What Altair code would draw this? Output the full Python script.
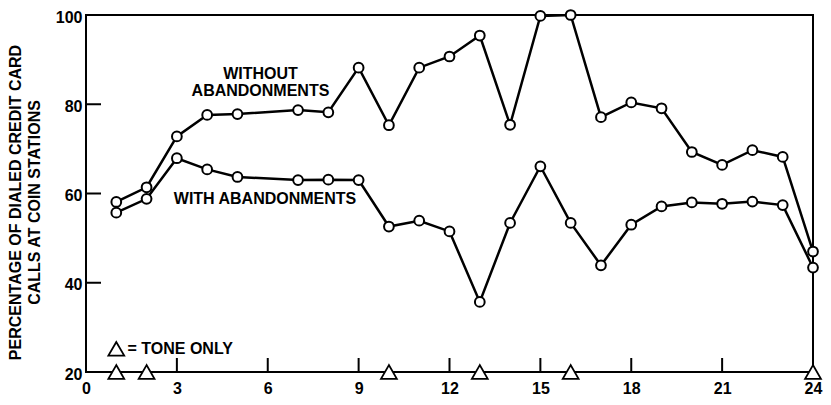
import altair as alt
import pandas as pd

# ---- data ----
hours = [1, 2, 3, 4, 5, 7, 8, 9, 10, 11, 12, 13, 14, 15, 16, 17, 18, 19, 20, 21, 22, 23, 24]
without_abandonments = [58.1, 61.4, 72.8, 77.6, 77.8, 78.7, 78.2, 88.2, 75.3, 88.2, 90.7, 95.4,
                        75.4, 99.8, 100.0, 77.1, 80.4, 79.1, 69.3, 66.4, 69.7, 68.2, 47.0]
with_abandonments = [55.7, 58.8, 67.9, 65.4, 63.7, 63.0, 63.1, 63.0, 52.6, 53.9, 51.5, 35.7,
                     53.4, 66.1, 53.4, 43.9, 53.0, 57.1, 58.0, 57.7, 58.2, 57.4, 43.4]
tone_only_hours = [1, 2, 10, 13, 16, 24]
x_tick_values = [3, 6, 9, 12, 15, 18, 21]
y_tick_values = [40, 60, 80]
x_label_values = [0, 3, 6, 9, 12, 15, 18, 21, 24]
y_label_values = [20, 40, 60, 80, 100]

label_texts = ["WITHOUT", "ABANDONMENTS", "WITH ABANDONMENTS"]
label_x = [5.76, 5.76, 5.91]
label_y = [86.7, 83.0, 58.8]

key_text = "= TONE ONLY"
key_x = 1.0
key_text_x = 1.37
key_y = 25.2

FONT = "Liberation Sans"
WEIGHT = "bold"
W, H = 727, 357

df = pd.DataFrame({
    "hour": hours * 2,
    "pct": without_abandonments + with_abandonments,
    "series": ["without"] * len(hours) + ["with"] * len(hours),
})
df_tone = pd.DataFrame({"hour": tone_only_hours, "pct": [20] * len(tone_only_hours)})
df_xt = pd.DataFrame({"hour": x_tick_values})
df_yt = pd.DataFrame({"pct": y_tick_values})
df_lab = pd.DataFrame({"hour": label_x, "pct": label_y, "txt": label_texts})
df_key = pd.DataFrame({"hour": [key_x], "pct": [key_y]})
df_keytxt = pd.DataFrame({"hour": [key_text_x], "pct": [key_y], "txt": [key_text]})

xs = alt.Scale(domain=[0, 24], nice=False, zero=False)
ys = alt.Scale(domain=[20, 100], nice=False, zero=False)

x_enc = alt.X("hour:Q", scale=xs, axis=alt.Axis(
    values=x_label_values, title=None, ticks=False, tickSize=0, domain=False, grid=False,
    labelPadding=8, labelFontSize=16, labelFont=FONT, labelFontWeight=WEIGHT,
    labelColor="black", labelFlush=False, format="d"))
y_enc = alt.Y("pct:Q", scale=ys, axis=alt.Axis(
    values=y_label_values, ticks=False, tickSize=0, domain=False, grid=False,
    labelPadding=4, labelFontSize=16, labelFont=FONT, labelFontWeight=WEIGHT,
    labelColor="black", labelFlush=False, labelOffset=2, format="d",
    title=["PERCENTAGE OF DIALED CREDIT CARD", "CALLS AT COIN STATIONS"],
    titleFont=FONT, titleFontSize=16, titleFontWeight=WEIGHT, titleColor="black",
    titleAngle=270, titleAlign="center", titleBaseline="middle", titleLineHeight=19,
    titleX=-71, titleY=187))

base = alt.Chart(df)

lines = base.mark_line(color="black", strokeWidth=2.5).encode(
    x=x_enc, y=y_enc, detail="series:N")
points = base.mark_point(shape="circle", filled=True, fill="white", stroke="black",
                         strokeWidth=2, size=95, opacity=1).encode(
    x="hour:Q", y="pct:Q", detail="series:N")

x_ticks = alt.Chart(df_xt).mark_rule(color="black", strokeWidth=2).encode(
    x="hour:Q", y=alt.value(H), y2=alt.value(H - 14))
y_ticks = alt.Chart(df_yt).mark_rule(color="black", strokeWidth=2).encode(
    y="pct:Q", x=alt.value(0), x2=alt.value(15))

tone = alt.Chart(df_tone).mark_point(shape="triangle-up", filled=True, fill="white",
                                     stroke="black", strokeWidth=1.8, size=250, opacity=1).encode(
    x="hour:Q", y="pct:Q")
key_tri = alt.Chart(df_key).mark_point(shape="triangle-up", filled=True, fill="white",
                                       stroke="black", strokeWidth=1.8, size=250, opacity=1).encode(
    x="hour:Q", y="pct:Q")
key_txt = alt.Chart(df_keytxt).mark_text(align="left", baseline="middle", font=FONT,
                                         fontWeight=WEIGHT, fontSize=16, color="black").encode(
    x="hour:Q", y="pct:Q", text="txt:N")
labels = alt.Chart(df_lab).mark_text(align="center", baseline="middle", font=FONT,
                                     fontWeight=WEIGHT, fontSize=16, color="black").encode(
    x="hour:Q", y="pct:Q", text="txt:N")

chart = alt.layer(x_ticks, y_ticks, lines, points, tone, key_tri, key_txt, labels).properties(
    width=W, height=H,
    autosize=alt.AutoSizeParams(type="none"),
    padding={"left": 78, "top": 7, "right": 10, "bottom": 25},
    background="white",
).configure_view(stroke="black", strokeWidth=2)

chart.save("out.html", embed_options={"renderer": "svg", "actions": False})
